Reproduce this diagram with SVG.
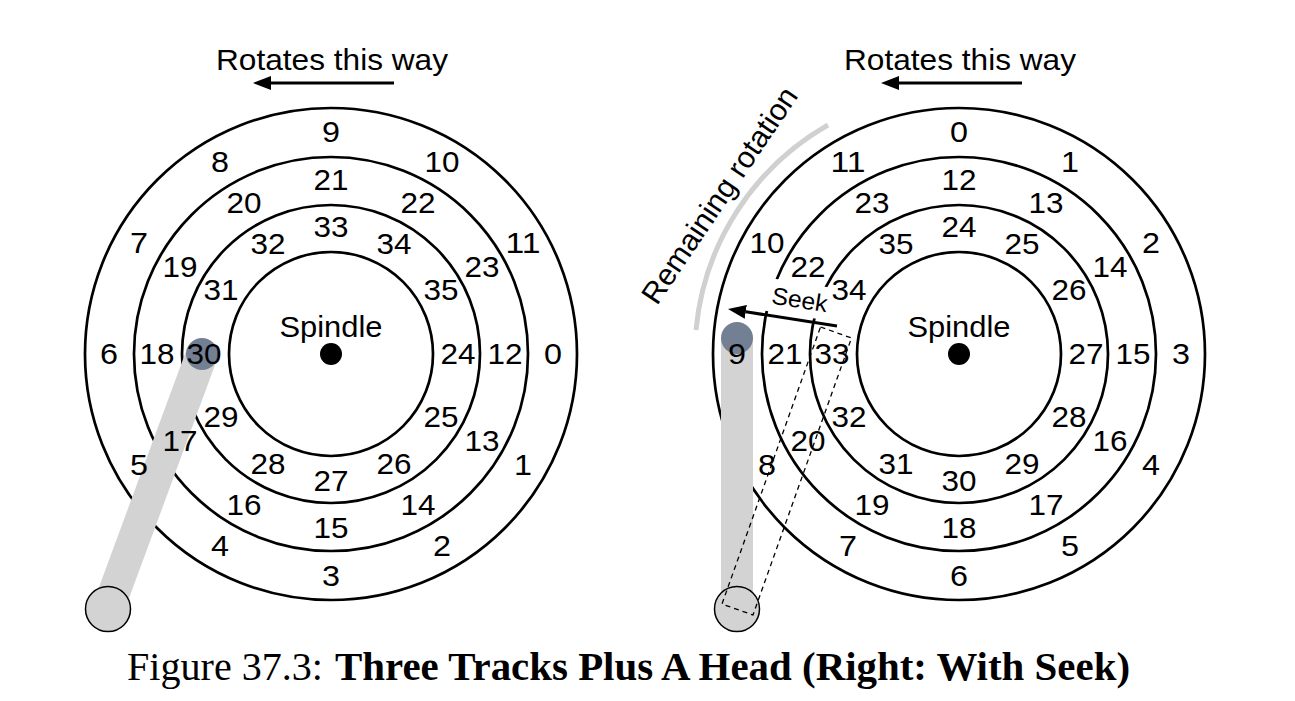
<svg xmlns="http://www.w3.org/2000/svg" width="1295" height="701" viewBox="0 0 1295 701">
<defs>
<marker id="ah" markerUnits="userSpaceOnUse" markerWidth="18" markerHeight="14" refX="0" refY="7" orient="auto" viewBox="0 0 18 14">
<path d="M0,0 L18,7 L0,14 z" fill="#000"/>
</marker>
</defs>
<style>
.trk{fill:none;stroke:#000;stroke-width:2.7}
.lbl{font-family:"Liberation Sans",Arial,Helvetica,sans-serif;font-size:29.5px;fill:#000;text-anchor:middle}
.ttl{font-family:"Liberation Sans",Arial,Helvetica,sans-serif;font-size:30px;fill:#000;text-anchor:middle}
.arm{stroke:#d3d3d3;stroke-width:32;fill:none}
.head{fill:#738094}
.base{fill:#d3d3d3;stroke:#000;stroke-width:1.5}
.dot{fill:#000}
.arr{stroke:#000;stroke-width:3;fill:none}
.ghost{fill:none;stroke:#000;stroke-width:1.3;stroke-dasharray:5 4}
.cap{font-family:"Liberation Serif","Times New Roman",serif;font-size:40px;fill:#000}
</style>
<rect width="1295" height="701" fill="#fff"/>

<g id="left-disk">
<circle class="trk" cx="331" cy="354" r="246"/>
<circle class="trk" cx="331" cy="354" r="197"/>
<circle class="trk" cx="331" cy="354" r="149"/>
<circle class="trk" cx="331" cy="354" r="102"/>
<circle class="dot" cx="331" cy="354" r="11"/>
</g>

<g id="right-disk">
<circle class="trk" cx="959" cy="354" r="246"/>
<circle class="trk" cx="959" cy="354" r="197"/>
<circle class="trk" cx="959" cy="354" r="149"/>
<circle class="trk" cx="959" cy="354" r="102"/>
<circle class="dot" cx="959" cy="354" r="11"/>
</g>

<g id="remaining-rotation">
<path d="M828,125 A264,264 0 0 0 696,330" fill="none" stroke="#d0d0d0" stroke-width="5"/>
<text class="ttl" transform="translate(728,201) rotate(-56)" textLength="254" lengthAdjust="spacingAndGlyphs">Remaining rotation</text>
</g>

<g id="seek-label" transform="translate(800,298) rotate(9)">
<rect x="-36" y="-15" width="70" height="33" fill="#fff"/>
<text class="lbl" x="0" y="10" style="font-size:24px" textLength="56" lengthAdjust="spacingAndGlyphs">Seek</text>
</g>

<g id="left-arm">
<line class="arm" x1="108" y1="609" x2="202" y2="354"/>
<circle class="base" cx="108" cy="609" r="22.5"/>
<circle class="head" cx="202" cy="354" r="16"/>
</g>

<g id="right-arm">
<line class="arm" x1="737" y1="609" x2="737" y2="338"/>
<circle class="base" cx="737" cy="609" r="22.5"/>
<circle class="head" cx="737" cy="338" r="16"/>
<polygon class="ghost" points="820.5,327 851.5,338 753,615 722,604"/>
</g>

<g id="left-labels">
<text class="lbl" x="553" y="364" textLength="18" lengthAdjust="spacingAndGlyphs">0</text>
<text class="lbl" x="523" y="475" textLength="18" lengthAdjust="spacingAndGlyphs">1</text>
<text class="lbl" x="442" y="556" textLength="18" lengthAdjust="spacingAndGlyphs">2</text>
<text class="lbl" x="331" y="586" textLength="18" lengthAdjust="spacingAndGlyphs">3</text>
<text class="lbl" x="220" y="556" textLength="18" lengthAdjust="spacingAndGlyphs">4</text>
<text class="lbl" x="139" y="475" textLength="18" lengthAdjust="spacingAndGlyphs">5</text>
<text class="lbl" x="109" y="364" textLength="18" lengthAdjust="spacingAndGlyphs">6</text>
<text class="lbl" x="139" y="253" textLength="18" lengthAdjust="spacingAndGlyphs">7</text>
<text class="lbl" x="220" y="172" textLength="18" lengthAdjust="spacingAndGlyphs">8</text>
<text class="lbl" x="331" y="142" textLength="18" lengthAdjust="spacingAndGlyphs">9</text>
<text class="lbl" x="442" y="172" textLength="35" lengthAdjust="spacingAndGlyphs">10</text>
<text class="lbl" x="523" y="253" textLength="35" lengthAdjust="spacingAndGlyphs">11</text>
<text class="lbl" x="505" y="364" textLength="35" lengthAdjust="spacingAndGlyphs">12</text>
<text class="lbl" x="482" y="451" textLength="35" lengthAdjust="spacingAndGlyphs">13</text>
<text class="lbl" x="418" y="515" textLength="35" lengthAdjust="spacingAndGlyphs">14</text>
<text class="lbl" x="331" y="538" textLength="35" lengthAdjust="spacingAndGlyphs">15</text>
<text class="lbl" x="244" y="515" textLength="35" lengthAdjust="spacingAndGlyphs">16</text>
<text class="lbl" x="180" y="451" textLength="35" lengthAdjust="spacingAndGlyphs">17</text>
<text class="lbl" x="157" y="364" textLength="35" lengthAdjust="spacingAndGlyphs">18</text>
<text class="lbl" x="180" y="277" textLength="35" lengthAdjust="spacingAndGlyphs">19</text>
<text class="lbl" x="244" y="213" textLength="35" lengthAdjust="spacingAndGlyphs">20</text>
<text class="lbl" x="331" y="190" textLength="35" lengthAdjust="spacingAndGlyphs">21</text>
<text class="lbl" x="418" y="213" textLength="35" lengthAdjust="spacingAndGlyphs">22</text>
<text class="lbl" x="482" y="277" textLength="35" lengthAdjust="spacingAndGlyphs">23</text>
<text class="lbl" x="458" y="364" textLength="35" lengthAdjust="spacingAndGlyphs">24</text>
<text class="lbl" x="441" y="427" textLength="35" lengthAdjust="spacingAndGlyphs">25</text>
<text class="lbl" x="394" y="474" textLength="35" lengthAdjust="spacingAndGlyphs">26</text>
<text class="lbl" x="331" y="491" textLength="35" lengthAdjust="spacingAndGlyphs">27</text>
<text class="lbl" x="268" y="474" textLength="35" lengthAdjust="spacingAndGlyphs">28</text>
<text class="lbl" x="221" y="427" textLength="35" lengthAdjust="spacingAndGlyphs">29</text>
<text class="lbl" x="204" y="364" textLength="35" lengthAdjust="spacingAndGlyphs">30</text>
<text class="lbl" x="221" y="300" textLength="35" lengthAdjust="spacingAndGlyphs">31</text>
<text class="lbl" x="268" y="254" textLength="35" lengthAdjust="spacingAndGlyphs">32</text>
<text class="lbl" x="331" y="237" textLength="35" lengthAdjust="spacingAndGlyphs">33</text>
<text class="lbl" x="394" y="254" textLength="35" lengthAdjust="spacingAndGlyphs">34</text>
<text class="lbl" x="441" y="300" textLength="35" lengthAdjust="spacingAndGlyphs">35</text>
<text class="lbl" x="331" y="337" textLength="103" lengthAdjust="spacingAndGlyphs">Spindle</text>
</g>

<g id="right-labels">
<text class="lbl" x="959" y="142" textLength="18" lengthAdjust="spacingAndGlyphs">0</text>
<text class="lbl" x="1070" y="172" textLength="18" lengthAdjust="spacingAndGlyphs">1</text>
<text class="lbl" x="1151" y="253" textLength="18" lengthAdjust="spacingAndGlyphs">2</text>
<text class="lbl" x="1181" y="364" textLength="18" lengthAdjust="spacingAndGlyphs">3</text>
<text class="lbl" x="1151" y="475" textLength="18" lengthAdjust="spacingAndGlyphs">4</text>
<text class="lbl" x="1070" y="556" textLength="18" lengthAdjust="spacingAndGlyphs">5</text>
<text class="lbl" x="959" y="586" textLength="18" lengthAdjust="spacingAndGlyphs">6</text>
<text class="lbl" x="848" y="556" textLength="18" lengthAdjust="spacingAndGlyphs">7</text>
<text class="lbl" x="767" y="475" textLength="18" lengthAdjust="spacingAndGlyphs">8</text>
<text class="lbl" x="737" y="364" textLength="18" lengthAdjust="spacingAndGlyphs">9</text>
<text class="lbl" x="767" y="253" textLength="35" lengthAdjust="spacingAndGlyphs">10</text>
<text class="lbl" x="848" y="172" textLength="35" lengthAdjust="spacingAndGlyphs">11</text>
<text class="lbl" x="959" y="190" textLength="35" lengthAdjust="spacingAndGlyphs">12</text>
<text class="lbl" x="1046" y="213" textLength="35" lengthAdjust="spacingAndGlyphs">13</text>
<text class="lbl" x="1110" y="277" textLength="35" lengthAdjust="spacingAndGlyphs">14</text>
<text class="lbl" x="1133" y="364" textLength="35" lengthAdjust="spacingAndGlyphs">15</text>
<text class="lbl" x="1110" y="451" textLength="35" lengthAdjust="spacingAndGlyphs">16</text>
<text class="lbl" x="1046" y="515" textLength="35" lengthAdjust="spacingAndGlyphs">17</text>
<text class="lbl" x="959" y="538" textLength="35" lengthAdjust="spacingAndGlyphs">18</text>
<text class="lbl" x="872" y="515" textLength="35" lengthAdjust="spacingAndGlyphs">19</text>
<text class="lbl" x="808" y="451" textLength="35" lengthAdjust="spacingAndGlyphs">20</text>
<text class="lbl" x="785" y="364" textLength="35" lengthAdjust="spacingAndGlyphs">21</text>
<text class="lbl" x="808" y="277" textLength="35" lengthAdjust="spacingAndGlyphs">22</text>
<text class="lbl" x="872" y="213" textLength="35" lengthAdjust="spacingAndGlyphs">23</text>
<text class="lbl" x="959" y="237" textLength="35" lengthAdjust="spacingAndGlyphs">24</text>
<text class="lbl" x="1022" y="254" textLength="35" lengthAdjust="spacingAndGlyphs">25</text>
<text class="lbl" x="1069" y="300" textLength="35" lengthAdjust="spacingAndGlyphs">26</text>
<text class="lbl" x="1086" y="364" textLength="35" lengthAdjust="spacingAndGlyphs">27</text>
<text class="lbl" x="1069" y="427" textLength="35" lengthAdjust="spacingAndGlyphs">28</text>
<text class="lbl" x="1022" y="474" textLength="35" lengthAdjust="spacingAndGlyphs">29</text>
<text class="lbl" x="959" y="491" textLength="35" lengthAdjust="spacingAndGlyphs">30</text>
<text class="lbl" x="896" y="474" textLength="35" lengthAdjust="spacingAndGlyphs">31</text>
<text class="lbl" x="849" y="427" textLength="35" lengthAdjust="spacingAndGlyphs">32</text>
<text class="lbl" x="832" y="364" textLength="35" lengthAdjust="spacingAndGlyphs">33</text>
<text class="lbl" x="849" y="300" textLength="35" lengthAdjust="spacingAndGlyphs">34</text>
<text class="lbl" x="896" y="254" textLength="35" lengthAdjust="spacingAndGlyphs">35</text>
<text class="lbl" x="959" y="337" textLength="103" lengthAdjust="spacingAndGlyphs">Spindle</text>
</g>

<g id="titles">
<text class="ttl" x="332" y="70" textLength="232" lengthAdjust="spacingAndGlyphs">Rotates this way</text>
<text class="ttl" x="960" y="70" textLength="232" lengthAdjust="spacingAndGlyphs">Rotates this way</text>
</g>

<g id="connectors">
<line class="arr" x1="394" y1="83" x2="271" y2="83" marker-end="url(#ah)"/>
<line class="arr" x1="1022" y1="83" x2="899" y2="83" marker-end="url(#ah)"/>
<line class="arr" x1="837" y1="326" x2="745.8" y2="311.8" marker-end="url(#ah)"/>
</g>

<g id="caption">
<text class="cap" x="127" y="680" textLength="196" lengthAdjust="spacingAndGlyphs">Figure 37.3:</text>
<text class="cap" x="335" y="680" font-weight="bold" textLength="795" lengthAdjust="spacingAndGlyphs">Three Tracks Plus A Head (Right: With Seek)</text>
</g>
</svg>
